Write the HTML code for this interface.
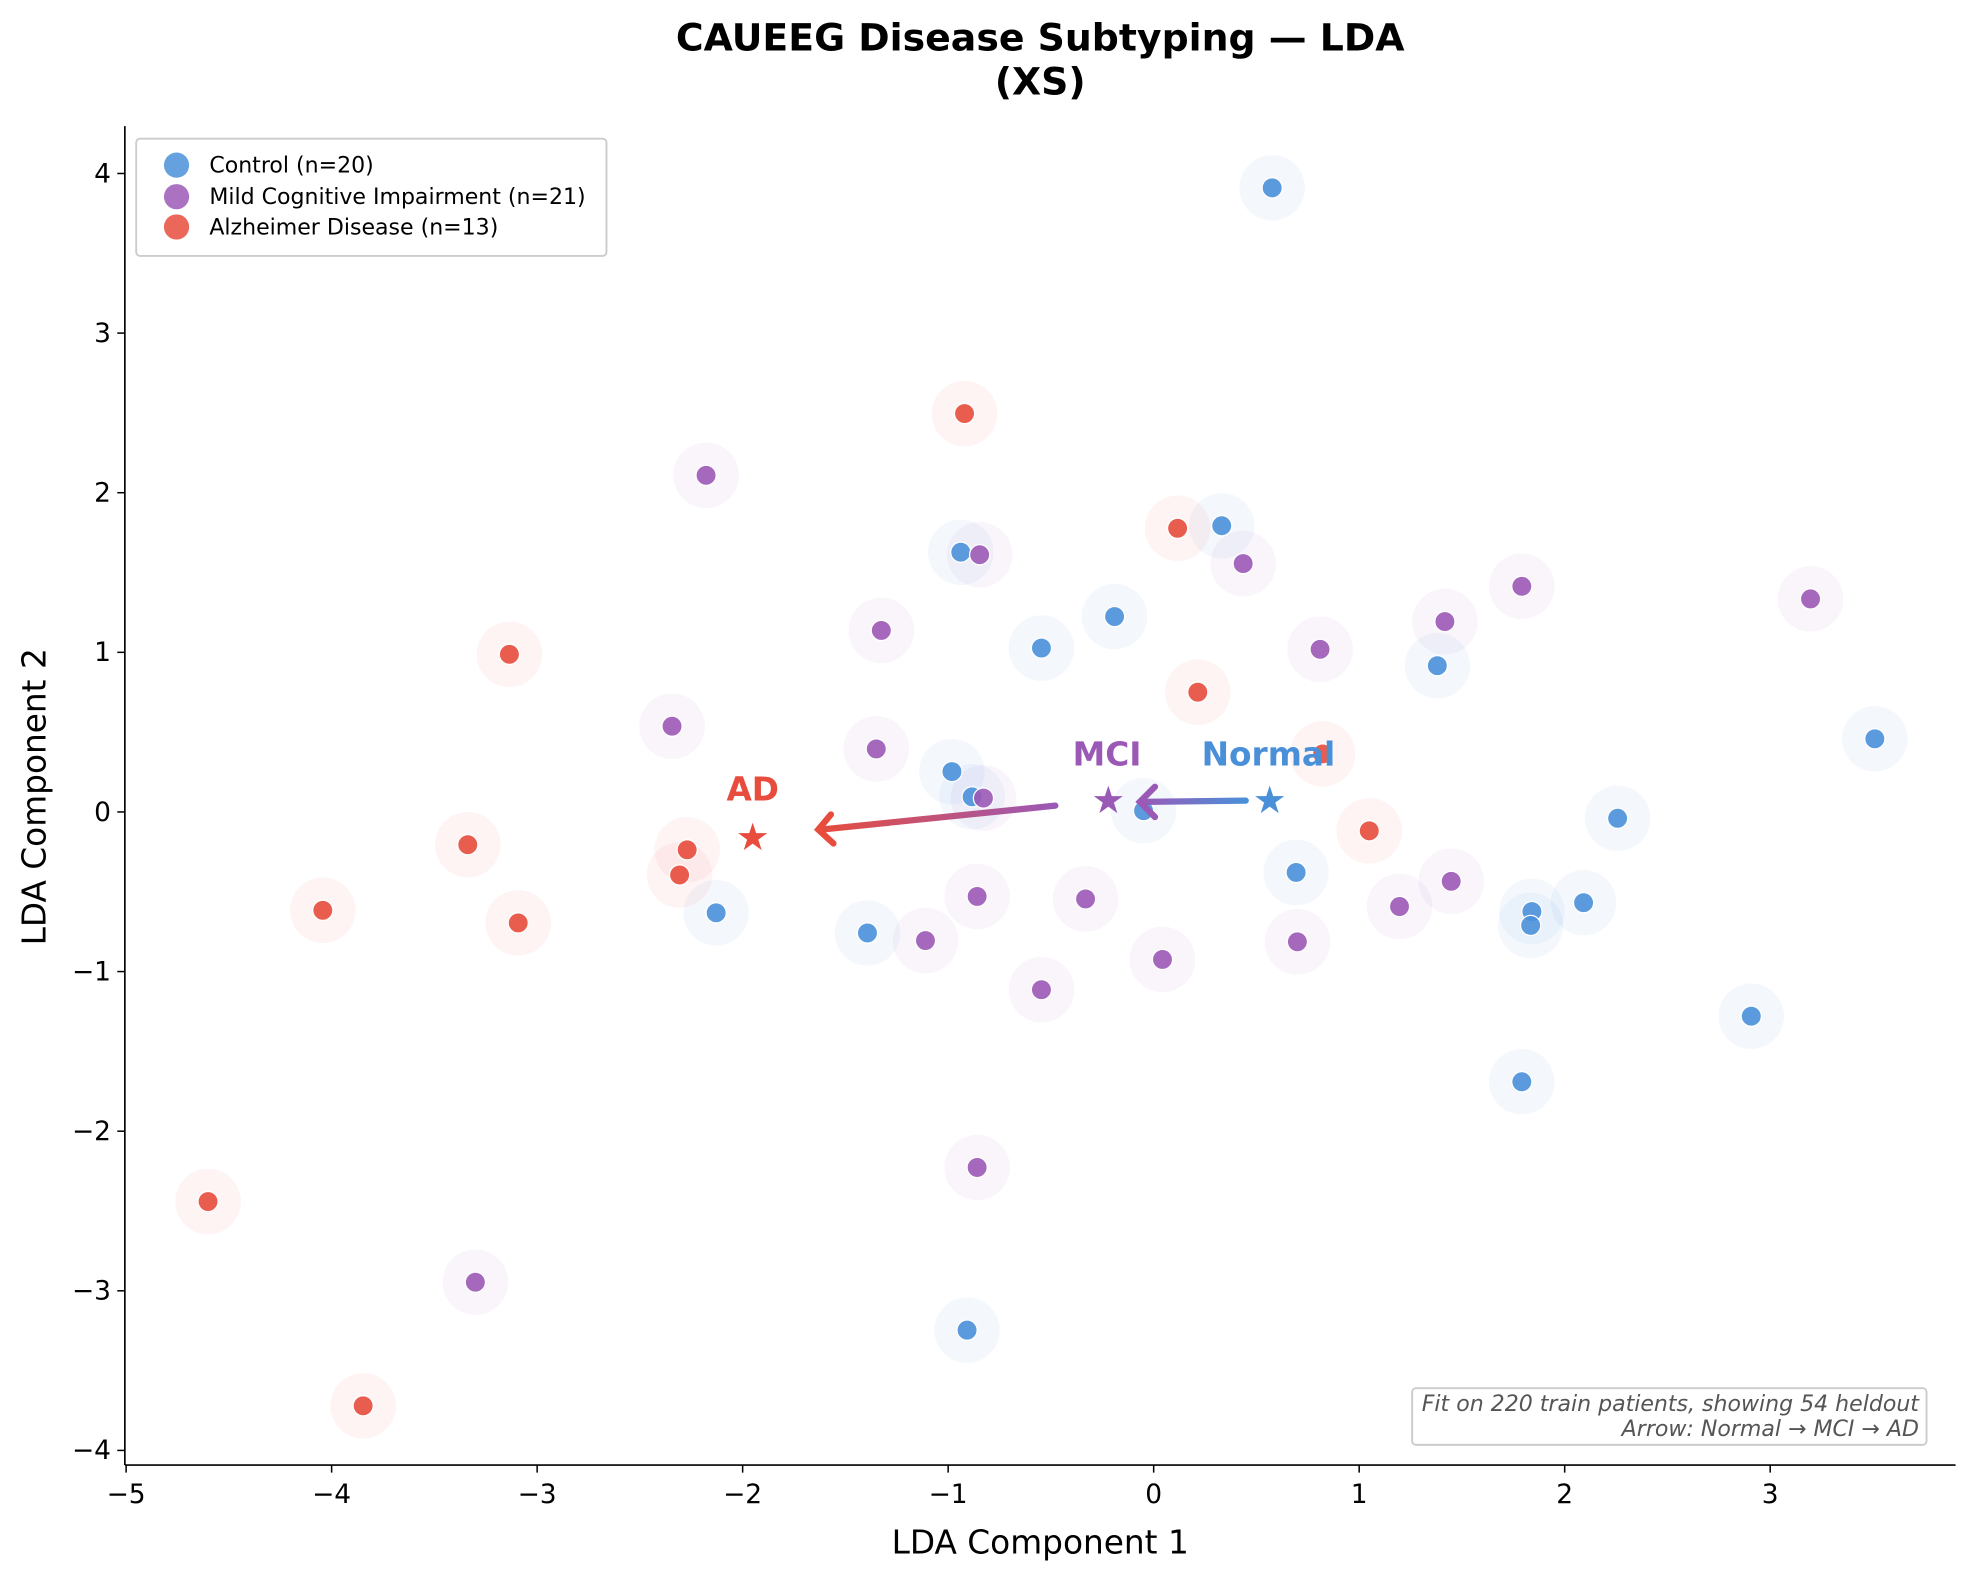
<!DOCTYPE html>
<html><head><meta charset="utf-8"><style>html,body{margin:0;padding:0;background:#fff}svg{display:block}</style></head><body>
<svg width="1977" height="1577" viewBox="0 0 1568 1250.8" xmlns="http://www.w3.org/2000/svg" font-family="DejaVu Sans, Liberation Sans, sans-serif">
<defs>
<linearGradient id="g1" x1="988" y1="0" x2="903" y2="0" gradientUnits="userSpaceOnUse"><stop offset="0" stop-color="#4a90d9"/><stop offset="1" stop-color="#9b59b6"/></linearGradient>
<linearGradient id="g2" x1="837" y1="0" x2="648" y2="0" gradientUnits="userSpaceOnUse"><stop offset="0" stop-color="#9b59b6"/><stop offset="1" stop-color="#e74c3c"/></linearGradient>
</defs>
<rect width="1570" height="1253" fill="#fff"/>
<text x="825" y="40" text-anchor="middle" font-weight="bold" font-size="30">CAUEEG Disease Subtyping — LDA</text>
<text x="825" y="75" text-anchor="middle" font-weight="bold" font-size="30">(XS)</text>
<g id="pts"></g>
<g stroke="#000" stroke-width="1.3">
<line x1="99" y1="100" x2="99" y2="1162"/><line x1="99" y1="1162" x2="1551" y2="1162"/>
</g>
<g stroke="#000" stroke-width="1.2" id="ticks"></g>
<g font-size="21" id="tl"></g>
<text x="825" y="1232" text-anchor="middle" font-size="26">LDA Component 1</text>
<text transform="translate(36,632) rotate(-90)" text-anchor="middle" font-size="26">LDA Component 2</text>
<rect x="108" y="110" width="373" height="93" rx="3" fill="#fff" fill-opacity="0.9" stroke="#ccc" stroke-width="1.5"/>
<circle cx="140" cy="131" r="10" fill="#4a90d9" fill-opacity="0.85"/>
<circle cx="140" cy="156" r="10" fill="#9b59b6" fill-opacity="0.85"/>
<circle cx="140" cy="180" r="10" fill="#e74c3c" fill-opacity="0.85"/>
<g font-size="17.5"><text x="166" y="137">Control (n=20)</text><text x="166" y="162">Mild Cognitive Impairment (n=21)</text><text x="166" y="186">Alzheimer Disease (n=13)</text></g>
<rect x="1120" y="1101" width="408" height="45" rx="3" fill="#fff" fill-opacity="0.9" stroke="#ccc" stroke-width="1.5"/>
<g font-size="17.5" font-style="italic" fill="#555" text-anchor="end"><text x="1522" y="1119">Fit on 220 train patients, showing 54 heldout</text><text x="1522" y="1139">Arrow: Normal → MCI → AD</text></g>
<script>
var S="http://www.w3.org/2000/svg";function el(t,a,p,txt){var e=document.createElementNS(S,t);for(var k in a)e.setAttribute(k,a[k]);if(txt)e.textContent=txt;p.appendChild(e);return e;}
var g=document.getElementById('pts');
var data=[["#4a90d9",[[1009,149],[969,417],[762,438],[884,489],[826,514],[1140,528],[1487,586],[755,612],[771,632],[907,643],[1283,649],[1028,692],[1215,723],[1214,734],[1256,716],[568,724],[688,740],[1389,806],[1207,858],[767,1055]]],
["#9b59b6",[[560,377],[777,440],[986,447],[1207,465],[699,500],[1146,493],[1047,515],[1436,475],[533,576],[695,594],[780,633],[775,711],[861,713],[1151,699],[1110,719],[734,746],[1029,747],[922,761],[826,785],[775,926],[377,1017]]],
["#e74c3c",[[765,328],[934,419],[404,519],[950,549],[1049,598],[1086,659],[371,670],[545,674],[539,694],[256,722],[411,732],[165,953],[288,1115]]]];
data.forEach(function(d){d[1].forEach(function(p){el('circle',{cx:p[0],cy:p[1],r:26,fill:d[0],'fill-opacity':0.06},g);});});
data.forEach(function(d){d[1].forEach(function(p){el('circle',{cx:p[0],cy:p[1],r:8,fill:d[0],'fill-opacity':0.9,stroke:'#fff','stroke-width':1},g);});});
el('line',{x1:988,y1:635,x2:906,y2:636,stroke:'url(#g1)','stroke-width':5,'stroke-linecap':'round'},g);
el('path',{d:'M916 624 L904 636 L916 648',fill:'none',stroke:'#9b59b6','stroke-width':5,'stroke-linecap':'round'},g);
el('line',{x1:837,y1:639,x2:651,y2:658,stroke:'url(#g2)','stroke-width':5,'stroke-linecap':'round'},g);
el('path',{d:'M659 646 L649 658 L661 669',fill:'none',stroke:'#e74c3c','stroke-width':5,'stroke-linecap':'round'},g);
[["#e74c3c",597,664],["#9b59b6",879,635],["#4a90d9",1007,635]].forEach(function(s){el('text',{x:s[1],y:s[2]+10,'text-anchor':'middle','font-size':30,fill:s[0]},g,'★');});
el('text',{x:597,y:635,'text-anchor':'middle','font-size':26,'font-weight':'bold',fill:'#e74c3c'},g,'AD');
el('text',{x:878,y:607,'text-anchor':'middle','font-size':26,'font-weight':'bold',fill:'#9b59b6'},g,'MCI');
el('text',{x:1006,y:607,'text-anchor':'middle','font-size':26,'font-weight':'bold',fill:'#4a90d9'},g,'Normal');
var tk=document.getElementById('ticks'),tl=document.getElementById('tl');
for(var x=-5;x<=3;x++){var px=915+163*x;el('line',{x1:px,y1:1162,x2:px,y2:1168},tk);el('text',{x:px,y:1192,'text-anchor':'middle'},tl,(x<0?'−':'')+Math.abs(x));}
for(var y=-4;y<=4;y++){var py=644-126.6*y;el('line',{x1:93,y1:py,x2:99,y2:py},tk);el('text',{x:88,y:py+7,'text-anchor':'end'},tl,(y<0?'−':'')+Math.abs(y));}
</script>
</svg>
</body></html>
